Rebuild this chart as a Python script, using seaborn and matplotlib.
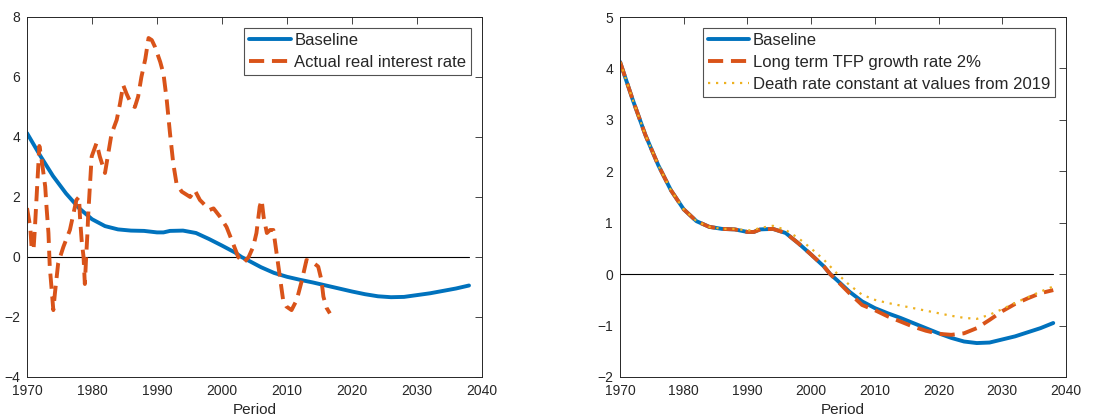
import numpy as np
import pandas as pd
import matplotlib
matplotlib.use("Agg")
import matplotlib.pyplot as plt
import seaborn as sns

# baseline simulation (both panels)
base_year = [1970, 1972, 1974, 1976, 1978, 1980, 1982, 1984, 1986, 1988, 1990, 1991,
             1992, 1994, 1996, 1998, 2000, 2002, 2003, 2004, 2006, 2008, 2010, 2012,
             2014, 2016, 2018, 2020, 2022, 2024, 2026, 2028, 2030, 2032, 2034, 2036, 2038]
base_val = [4.13, 3.39, 2.70, 2.12, 1.63, 1.26, 1.03, 0.92, 0.88, 0.87, 0.82, 0.82,
            0.87, 0.88, 0.80, 0.60, 0.38, 0.15, 0.0, -0.11, -0.34, -0.53, -0.66, -0.76,
            -0.85, -0.95, -1.05, -1.15, -1.24, -1.31, -1.34, -1.33, -1.27, -1.21, -1.13, -1.05, -0.95]

# actual real interest rate (left panel)
act_year = [1970.0, 1970.5, 1970.7, 1971.0, 1971.2, 1971.5, 1971.9, 1972.1, 1972.4, 1972.8,
            1973.0, 1973.3, 1973.5, 1973.8, 1974.05, 1974.3, 1974.8, 1975.6, 1976.6, 1977.6,
            1978.0, 1978.15, 1978.4, 1978.7, 1978.9, 1979.1, 1979.3, 1979.4, 1979.7, 1979.95,
            1980.7, 1981.2, 1982.0, 1982.5, 1983.0, 1983.8, 1984.3, 1984.8, 1985.3, 1986.1,
            1986.6, 1987.1, 1987.6, 1988.2, 1988.7, 1989.2, 1989.7, 1990.5, 1991.0, 1991.5,
            1992.0, 1992.5, 1993.0, 1993.8, 1994.6, 1995.1, 1995.8, 1996.6, 1997.6, 1998.1,
            1998.7, 1999.7, 2000.7, 2001.7, 2002.5, 2003.3, 2004.1, 2004.8, 2005.3, 2005.8,
            2006.1, 2006.4, 2006.9, 2007.4, 2007.9, 2008.4, 2008.9, 2009.4, 2009.9, 2010.7,
            2011.5, 2012.3, 2013.0, 2014.1, 2014.8, 2015.3, 2015.6, 2016.1, 2016.6]
act_val = [1.63, 1.0, 0.34, 0.23, 0.9, 2.1, 3.7, 3.45, 3.0, 2.35,
           1.68, 0.8, -0.32, -1.1, -1.77, -1.2, -0.2, 0.34, 0.9, 1.9,
           2.0, 1.34, 0.57, 0.0, -0.9, 0.0, 0.8, 1.34, 2.45, 3.35,
           3.8, 3.35, 2.8, 3.45, 4.1, 4.57, 5.1, 5.73, 5.45, 5.07,
           5.0, 5.35, 6.0, 6.6, 7.3, 7.23, 7.0, 6.5, 6.1, 5.23,
           4.12, 3.12, 2.45, 2.18, 2.07, 2.0, 2.23, 1.9, 1.68, 1.57,
           1.62, 1.34, 1.0, 0.45, 0.0, -0.2, 0.0, 0.34, 0.8, 1.68,
           1.9, 1.34, 0.8, 0.9, 0.9, 0.12, -0.65, -1.43, -1.65, -1.77,
           -1.43, -0.77, -0.1, -0.2, -0.32, -0.77, -1.32, -1.7, -1.88]

# scenario runs (right panel)
tfp_val = [4.13, 3.39, 2.70, 2.12, 1.63, 1.26, 1.03, 0.92, 0.88, 0.87, 0.82, 0.82,
           0.87, 0.88, 0.80, 0.60, 0.38, 0.15, 0.0, -0.12, -0.37, -0.60, -0.70, -0.82,
           -0.92, -1.02, -1.10, -1.16, -1.18, -1.15, -1.05, -0.89, -0.72, -0.58, -0.47, -0.37, -0.31]
death_val = [4.13, 3.39, 2.70, 2.12, 1.63, 1.26, 1.03, 0.92, 0.88, 0.88, 0.85, 0.86,
             0.90, 0.94, 0.86, 0.70, 0.50, 0.28, 0.15, 0.02, -0.21, -0.40, -0.50, -0.56,
             -0.61, -0.66, -0.71, -0.76, -0.81, -0.85, -0.87, -0.79, -0.68, -0.56, -0.45, -0.34, -0.24]

BLUE, ORANGE, YELLOW = "#0072BD", "#D95319", "#EDB120"
DASH = (0, (3.9, 2.0))

sns.set_theme(style="white")
plt.rcParams['font.family'] = ['Liberation Sans', 'DejaVu Sans']

fig = plt.figure(figsize=(10.94, 4.18), dpi=100)
ax1 = fig.add_axes([27 / 1094, 41 / 418, 455 / 1094, 360 / 418])
ax2 = fig.add_axes([620 / 1094, 41 / 418, 446 / 1094, 360 / 418])


def style_axes(ax, ylim, yticks):
    ax.set_xlim(1970, 2040)
    ax.set_ylim(*ylim)
    ax.set_xticks(range(1970, 2041, 10))
    ax.set_yticks(yticks)
    ax.tick_params(direction="in", top=True, right=True, length=5, width=0.6,
                   colors="#262626", labelsize=10, pad=5)
    for s in ax.spines.values():
        s.set_color("#262626")
        s.set_linewidth(0.7)
    ax.set_xlabel("Period", fontsize=11, color="#262626", labelpad=4)
    ax.set_ylabel("")
    ax.axhline(0, xmin=0, xmax=68 / 70, color="black", lw=0.8, zorder=1)


def style_legend(ax):
    leg = ax.legend(loc="upper right", fontsize=12, frameon=True, fancybox=False,
                    handlelength=2.5, borderpad=0.3, labelspacing=0.42, handletextpad=0.2,
                    borderaxespad=0.65)
    leg.get_frame().set_edgecolor("#262626")
    leg.get_frame().set_linewidth(0.8)


# left panel
sns.lineplot(x=base_year, y=base_val, ax=ax1, color=BLUE, linewidth=2.8, label="Baseline")
sns.lineplot(x=act_year, y=act_val, ax=ax1, color=ORANGE, linewidth=2.8,
             linestyle=DASH, label="Actual real interest rate")
style_axes(ax1, (-4, 8), range(-4, 9, 2))
style_legend(ax1)

# right panel
sns.lineplot(x=base_year, y=base_val, ax=ax2, color=BLUE, linewidth=2.8, label="Baseline")
sns.lineplot(x=base_year, y=tfp_val, ax=ax2, color=ORANGE, linewidth=2.8,
             linestyle=DASH, label="Long term TFP growth rate 2%")
sns.lineplot(x=base_year, y=death_val, ax=ax2, color=YELLOW, linewidth=1.6,
             linestyle=(0, (1, 2.6)), label="Death rate constant at values from 2019")
style_axes(ax2, (-2, 5), range(-2, 6, 1))
style_legend(ax2)

fig.savefig("out.png", dpi=100)
